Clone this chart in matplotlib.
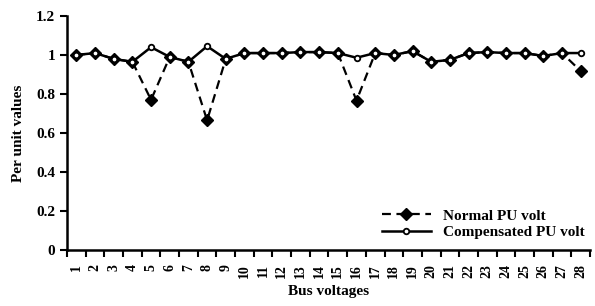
import matplotlib
matplotlib.use("Agg")
import matplotlib.pyplot as plt
import numpy as np

buses = [str(i) for i in range(1, 29)]
normal = [1.0, 1.01, 0.98, 0.965, 0.77, 0.99, 0.965, 0.665, 0.98, 1.01,
          1.01, 1.01, 1.015, 1.015, 1.01, 0.766, 1.01, 1.0, 1.02, 0.965,
          0.975, 1.01, 1.015, 1.01, 1.01, 0.995, 1.01, 0.918]
compensated = [1.0, 1.01, 0.98, 0.965, 1.04, 0.99, 0.965, 1.045, 0.98, 1.01,
               1.01, 1.01, 1.015, 1.015, 1.01, 0.986, 1.01, 1.0, 1.02, 0.965,
               0.975, 1.01, 1.015, 1.01, 1.01, 0.995, 1.01, 1.01]
yticks = [0, 0.2, 0.4, 0.6, 0.8, 1, 1.2]
ytick_labels = ["0", "0.2", "0.4", "0.6", "0.8", "1", "1.2"]

plt.rcParams['font.family'] = ['Liberation Serif', 'DejaVu Serif']
plt.rcParams['font.weight'] = 'bold'

fig = plt.figure(figsize=(5.95, 3.06), dpi=100)
ax = fig.add_axes([67/595, 56/306, 523/595, 234/306])

x = np.arange(1, len(buses) + 1)
ax.plot(x, normal, linestyle=(0, (4, 2.5)), color='black', lw=1.6,
        marker='D', markersize=6.5, markerfacecolor='black',
        markeredgecolor='black', label='Normal PU volt', zorder=2)
ax.plot(x, compensated, linestyle='-', color='black', lw=1.8,
        marker='o', markersize=4, markerfacecolor='white',
        markeredgecolor='black', markeredgewidth=1.3,
        label='Compensated PU volt', zorder=3)

ax.set_xlim(0.5, len(buses) + 0.5)
ax.set_ylim(0, 1.2)
ax.set_yticks(yticks)
ax.set_yticklabels(ytick_labels, fontsize=11, fontweight='bold')
ax.set_xticks(x)
ax.set_xticklabels(buses, rotation=90, fontsize=10, fontweight='bold')
ax.set_xticks(np.arange(0.5, len(buses) + 1, 1), minor=True)
ax.tick_params(axis='x', which='major', length=0, pad=10)
ax.tick_params(axis='x', which='minor', length=5, width=1.5, direction='out')
ax.tick_params(axis='y', length=5, width=1.5, direction='out')

for s in ['top', 'right']:
    ax.spines[s].set_visible(False)
for s in ['left', 'bottom']:
    ax.spines[s].set_linewidth(1.8)

ax.set_ylabel('Per unit values', fontsize=11, fontweight='bold', labelpad=8)
ax.set_xlabel('Bus voltages', fontsize=11, fontweight='bold', labelpad=5)

ax.legend(loc='lower right', frameon=False, fontsize=11,
          bbox_to_anchor=(1.01, 0.0), handlelength=3.2,
          handletextpad=0.8, labelspacing=0.2, borderpad=0.2)

fig.savefig('out.png', dpi=100)
